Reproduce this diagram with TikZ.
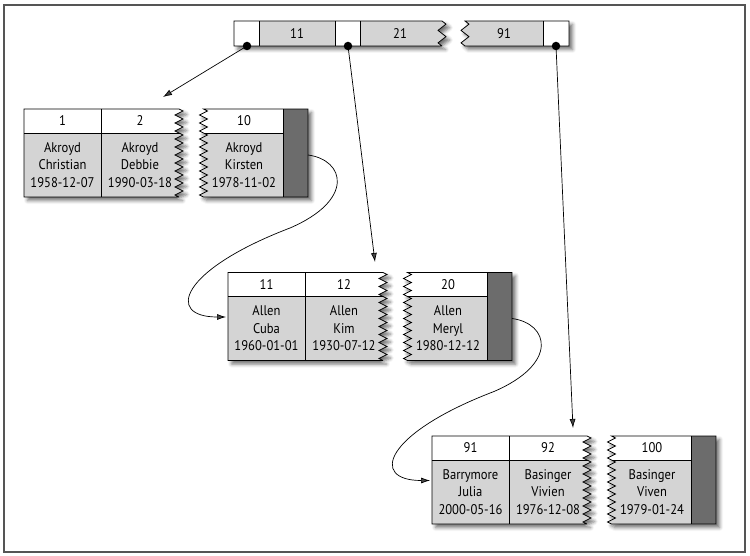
\documentclass[tikz,border=0pt]{standalone}
\usepackage{fontspec}
\setmainfont{PT Sans}[FakeStretch=0.9]
\usetikzlibrary{shadows.blur,decorations.pathmorphing,arrows.meta}
\definecolor{cellgray}{HTML}{D4D4D4}
\definecolor{stripgray}{HTML}{6C6C6C}
\definecolor{framegray}{HTML}{555555}
\tikzset{
  zig/.style={decoration={zigzag,segment length=8,amplitude=4}},
  topzig/.style={decoration={zigzag,segment length=12.5,amplitude=4}},
  shad/.style={blur shadow={shadow xshift=3.5pt,shadow yshift=-3.5pt,shadow blur radius=3.5pt,shadow opacity=55}},
  outline/.style={draw=black,line width=0.8},
  txt/.style={font=\fontsize{14}{17.5}\selectfont, align=center, inner sep=0},
  dot/.style={circle,fill=black,inner sep=0,minimum size=8.5},
  ptr/.style={-{Latex[length=9,width=6]},line width=0.7},
}
\newcommand\pathA[1]{\path[#1] (0,0) -- (155,0) decorate[zig]{-- (155,88)} -- (0,88) -- cycle;}
\newcommand\pathB[1]{\path[#1] (284,0) -- (179.5,0) decorate[zig]{-- (179.5,88)} -- (284,88) -- cycle;}
\newcommand\pathTa[1]{\path[#1] (234,21) -- (442,21) decorate[topzig]{-- (442,46)} -- (234,46) -- cycle;}
\newcommand\pathTb[1]{\path[#1] (569,21) -- (465,21) decorate[topzig]{-- (465,46)} -- (569,46) -- cycle;}
\newcommand\leafshapes{%
  \pathA{shad,fill=white}
  \begin{scope}\pathA{clip}\fill[cellgray] (0,24) rectangle (170,88);\draw[outline] (0,24) -- (170,24) (77,0) -- (77,88);\end{scope}
  \pathA{outline}
  \pathB{shad,fill=white}
  \begin{scope}\pathB{clip}\fill[cellgray] (165,24) rectangle (259,88);\fill[stripgray] (259,0) rectangle (284,88);\draw[outline] (165,24) -- (259,24);\end{scope}
  \pathB{outline}
  \draw[outline] (259,0) -- (259,88);
}
\begin{document}
\begin{tikzpicture}[x=1pt,y=-1pt]
\useasboundingbox (0,0) rectangle (750,556);
\draw[framegray,line width=1.6] (4,5) rectangle (745,552);

% top index
\pathTa{shad,fill=white}
\begin{scope}\pathTa{clip}\fill[cellgray] (259,21) rectangle (335,46);\fill[cellgray] (360,21) rectangle (450,46);\end{scope}
\pathTa{outline}
\draw[outline] (259,21) -- (259,46) (335,21) -- (335,46) (360,21) -- (360,46);
\pathTb{shad,fill=white}
\begin{scope}\pathTb{clip}\fill[cellgray] (455,21) rectangle (543,46);\end{scope}
\pathTb{outline}
\draw[outline] (543,21) -- (543,46);
\node[txt] (t11) at (297,33.5) {11};
\node[txt] (t21) at (400,33.5) {21};
\node[txt] (t91) at (504,33.5) {91};
\node[dot] (d1) at (247,46) {};
\node[dot] (d2) at (348,46) {};
\node[dot] (d3) at (556,46) {};

% leaf 1
\begin{scope}[shift={(24,109)}]
  \leafshapes
  \node[txt] (l1k1) at (38.5,12) {1};
  \node[txt] (l1r1) at (38.5,56) {Akroyd\\Christian\\1958-12-07};
  \node[txt] (l1k2) at (116,12) {2};
  \node[txt] (l1r2) at (116,56) {Akroyd\\Debbie\\1990-03-18};
  \node[txt] (l1k3) at (220,12) {10};
  \node[txt] (l1r3) at (220,56) {Akroyd\\Kirsten\\1978-11-02};
  \coordinate (l1top) at (139,-12);
  \coordinate (l1out) at (284,46);
  \coordinate (l1mid) at (266,119);
\end{scope}

% leaf 2
\begin{scope}[shift={(228,272.5)}]
  \leafshapes
  \node[txt] (l2k1) at (38.5,12) {11};
  \node[txt] (l2r1) at (38.5,56) {Allen\\Cuba\\1960-01-01};
  \node[txt] (l2k2) at (116,12) {12};
  \node[txt] (l2r2) at (116,56) {Allen\\Kim\\1930-07-12};
  \node[txt] (l2k3) at (220,12) {20};
  \node[txt] (l2r3) at (220,56) {Allen\\Meryl\\1980-12-12};
  \coordinate (l2top) at (147,-10.5);
  \coordinate (l2in) at (-2,44.5);
  \coordinate (l2out) at (284,46);
  \coordinate (l2mid) at (266,119);
\end{scope}

% leaf 3
\begin{scope}[shift={(432,436)}]
  \leafshapes
  \node[txt] (l3k1) at (38.5,12) {91};
  \node[txt] (l3r1) at (38.5,56) {Barrymore\\Julia\\2000-05-16};
  \node[txt] (l3k2) at (116,12) {92};
  \node[txt] (l3r2) at (116,56) {Basinger\\Vivien\\1976-12-08};
  \node[txt] (l3k3) at (220,12) {100};
  \node[txt] (l3r3) at (220,56) {Basinger\\Viven\\1979-01-24};
  \coordinate (l3top) at (141,-8);
  \coordinate (l3in) at (-2,44.5);
\end{scope}

% pointers
\draw[ptr] (d1.center) -- (l1top);
\draw[ptr] (d2.center) -- (l2top);
\draw[ptr] (d3.center) -- (l3top);
\draw[ptr] (l1out) .. controls +(37,5) and +(65,-28) .. (l1mid) .. controls +(-110,42) and +(-61,0) .. (l2in);
\draw[ptr] (l2out) .. controls +(37,5) and +(65,-28) .. (l2mid) .. controls +(-110,42) and +(-61,0) .. (l3in);
\end{tikzpicture}
\end{document}
